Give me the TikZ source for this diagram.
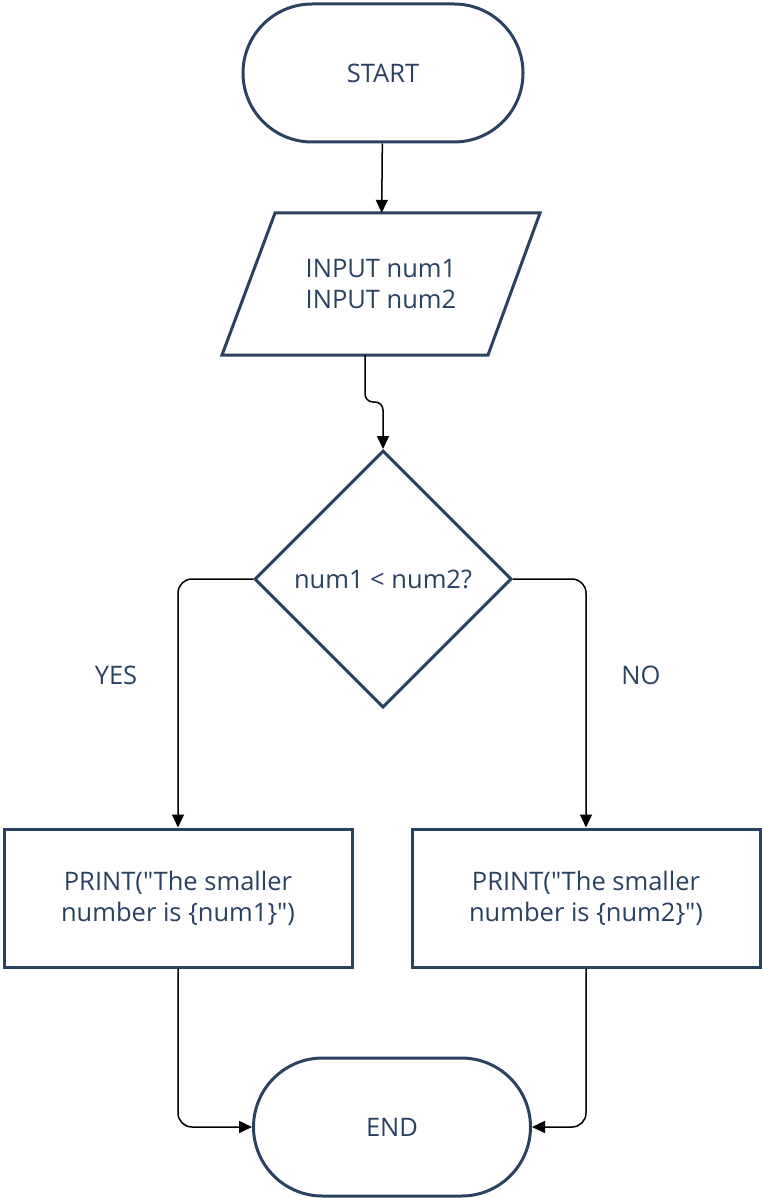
\documentclass[tikz,border=0pt]{standalone}
\usepackage{fontspec}
\setmainfont{Open Sans}[Ligatures=TeXOff]
\usetikzlibrary{shapes.geometric,arrows.meta}
\definecolor{navy}{HTML}{2B4160}
\begin{document}
\begin{tikzpicture}[x=1pt,y=-1pt,
  txt/.style={text=navy, font=\fontsize{25.5}{31}\selectfont, align=center},
  shp/.style={txt, draw=navy, line width=3pt, inner sep=0pt},
  term/.style={shp, rectangle, rounded corners=69pt, minimum width=280pt, minimum height=138pt},
  proc/.style={shp, rectangle, minimum width=348pt, minimum height=138pt},
  dec/.style={shp, diamond, minimum width=257pt, minimum height=257pt},
  conn/.style={draw=black, line width=1.5pt, -{Triangle[length=13pt,width=12pt]}, rounded corners=14pt}]
\useasboundingbox (0,0) rectangle (762,1198);
\node[term] (start) at (383,73) {START};
\draw[navy, line width=3pt, line join=miter] (275,213) -- (540,213) -- (488,355) -- (222,355) -- cycle;
\node[txt, minimum height=142pt, minimum width=266pt, inner sep=0pt] (in) at (381,284) {INPUT num1\\INPUT num2};
\coordinate (inb) at (365,355);
\node[dec] (dec) at (383,579) {num1 < num2?};
\node[proc] (yes) at (178,898) {PRINT("The smaller\\number is \{num1\}")};
\node[proc] (no) at (586,898) {PRINT("The smaller\\number is \{num2\}")};
\node[term, minimum width=277pt] (end) at (392,1127) {END};
\node[txt] (yl) at (116,675) {YES};
\node[txt] (nl) at (641,675) {NO};
\draw[conn] (start) -- (in);
\draw[conn, rounded corners=8pt] (inb) -- ++(0,47) -| (dec.north);
\draw[conn] (dec.west) -| (yes.north);
\draw[conn] (dec.east) -| (no.north);
\draw[conn] (yes.south) |- (end.west);
\draw[conn] (no.south) |- (end.east);
\end{tikzpicture}
\end{document}
